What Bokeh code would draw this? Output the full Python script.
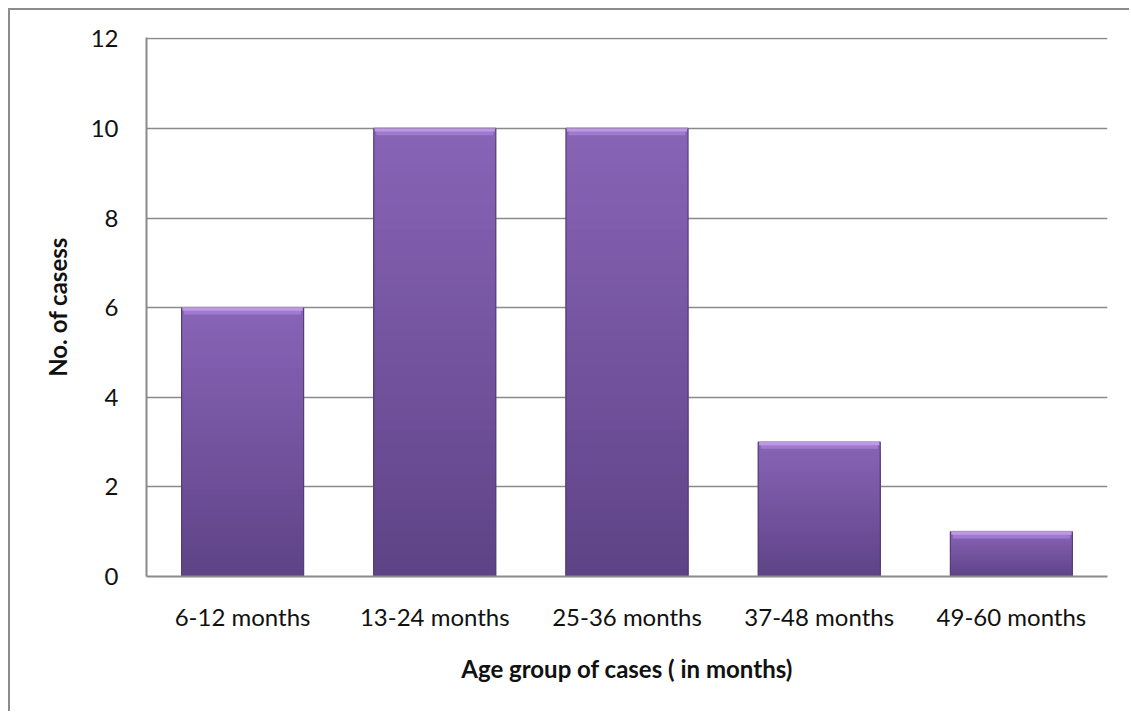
from bokeh.plotting import figure
from bokeh.models import FactorRange, Range1d, FixedTicker
from bokeh.embed import file_html
from bokeh.resources import INLINE

# Case counts by age group
age_groups = ["6-12 months", "13-24 months", "25-36 months", "37-48 months", "49-60 months"]
case_counts = [6, 10, 10, 3, 1]
y_ticks = [0, 2, 4, 6, 8, 10, 12]

FONT = "Lato"
BAR_WIDTH = 0.635
GRID_COLOR = "#8a8a8a"


def mix(c1, c2, t):
    a = [int(c1[i:i + 2], 16) for i in (1, 3, 5)]
    b = [int(c2[i:i + 2], 16) for i in (1, 3, 5)]
    return "#" + "".join(f"{round(x + (y - x) * t):02x}" for x, y in zip(a, b))


# small headroom so the top gridline at 12 is not clipped by the frame
p = figure(
    x_range=FactorRange(*age_groups, range_padding=0),
    y_range=Range1d(0, 12.03),
    width=1121, height=703,
    min_border_left=136, min_border_right=24,
    min_border_top=27, min_border_bottom=137,
    output_backend="svg", toolbar_location=None,
)
p.styles = {
    "margin-left": "8px", "margin-top": "8px",
    "border-left": "2px solid #8c8c8c", "border-top": "2px solid #8c8c8c",
}
p.outline_line_color = None
p.background_fill_color = "white"

# Bars: shaded body, darker at the base. Nested bars drawn tallest first,
# so each shorter one paints the lower part without seams.
TOP_C, BOT_C = "#8964b7", "#5e4386"
N = 40
for k in range(N, 0, -1):
    t1 = k / N
    p.vbar(
        x=age_groups, width=BAR_WIDTH,
        bottom=0,
        top=[v * t1 for v in case_counts],
        fill_color=mix(BOT_C, TOP_C, (k - 0.5) / N),
        line_color=None,
    )
# thin dark side edges
p.vbar(x=age_groups, width=BAR_WIDTH, bottom=0, top=case_counts,
       fill_color=None, line_color="#563c7a", line_width=1.2)
# bevelled highlight along each bar's top
p.vbar(x=age_groups, width=BAR_WIDTH * 0.96, bottom=[v - 0.15 for v in case_counts],
       top=[v - 0.04 for v in case_counts], fill_color="#9f7bce", line_color=None)
p.vbar(x=age_groups, width=BAR_WIDTH * 0.985, bottom=[v - 0.07 for v in case_counts],
       top=case_counts, fill_color="#bf96ea", line_color=None)
p.vbar(x=age_groups, width=BAR_WIDTH, bottom=case_counts,
       top=[v + 0.02 for v in case_counts], fill_color="#b9b2c0", line_color=None)

# Axes
p.yaxis.ticker = FixedTicker(ticks=y_ticks)
p.ygrid.ticker = FixedTicker(ticks=y_ticks)
p.ygrid.grid_line_color = GRID_COLOR
p.ygrid.grid_line_width = 1.3
p.xgrid.grid_line_color = None

for ax in (p.xaxis[0], p.yaxis[0]):
    ax.axis_line_color = GRID_COLOR
    ax.axis_line_width = 2
    ax.major_tick_line_color = None
    ax.minor_tick_line_color = None
    ax.major_label_text_font = FONT
    ax.major_label_text_font_size = "24px"
    ax.major_label_text_color = "#111111"
    ax.axis_label_text_font = FONT
    ax.axis_label_text_font_size = "24px"
    ax.axis_label_text_font_style = "bold"
    ax.axis_label_text_color = "#111111"

p.yaxis.major_label_standoff = 22
p.yaxis.axis_label = "No. of casess"
p.yaxis.axis_label_standoff = 16
p.xaxis.major_label_standoff = 19
p.xaxis.axis_label = "Age group of cases ( in months)"
p.xaxis.axis_label_standoff = 20

open("out.html", "w").write(file_html(p, INLINE))
